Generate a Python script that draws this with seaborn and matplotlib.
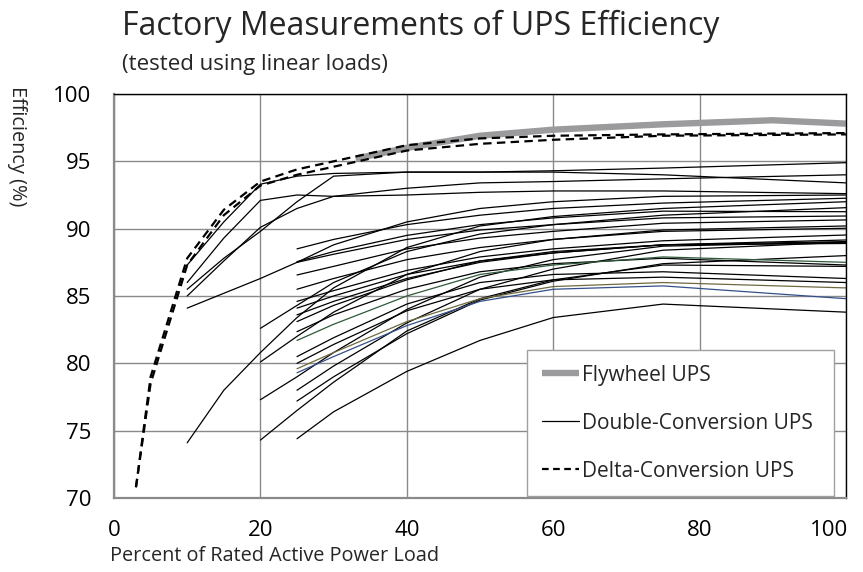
import matplotlib
matplotlib.use("Agg")
import matplotlib.pyplot as plt
import seaborn as sns
import pandas as pd
from matplotlib.lines import Line2D
from matplotlib.transforms import ScaledTranslation

# ---------------- data ----------------
X10 = [10, 15, 20, 25, 30, 40, 50, 60, 75, 100]
X20 = [20, 25, 30, 40, 50, 60, 75, 100]
X25 = [25, 30, 40, 50, 60, 75, 100]

# double-conversion UPS curves starting at 10 % load
dc01 = [87.3, 90.5, 93.3, 93.9, 94.1, 94.2, 94.2, 94.3, 94.5, 94.9]
dc02 = [86.0, 89.3, 92.1, 92.5, 92.4, 92.5, 92.7, 92.8, 92.8, 92.6]
dc03 = [85.0, 87.6, 90.1, 91.5, 92.4, 93.0, 93.4, 93.5, 93.7, 94.0]
dc06 = [85.5, 87.8, 89.8, 92.0, 93.9, 94.2, 94.2, 94.2, 94.0, 93.4]
dc04 = [84.1, 85.2, 86.3, 87.5, 88.8, 90.5, 91.5, 92.0, 92.4, 92.5]
dc05 = [74.1, 78.0, 80.8, 83.4, 85.6, 88.6, 90.2, 90.9, 91.5, 92.0]
# starting at 20 % load
dc07 = [82.6, 84.3, 86.0, 88.3, 89.6, 90.3, 91.0, 91.56]
dc08 = [80.1, 82.0, 83.8, 86.6, 88.3, 89.2, 89.9, 90.2]
dc09 = [77.3, 79.0, 80.8, 84.0, 86.4, 87.7, 88.7, 89.0]
dc10 = [74.3, 76.5, 78.6, 82.4, 84.8, 86.2, 87.3, 87.2]
# starting at 25 % load
dc11 = [88.5, 89.2, 90.3, 91.0, 91.5, 91.9, 92.26]
dc12 = [87.55, 88.3, 89.5, 90.3, 90.8, 91.3, 91.26]
dc13 = [87.5, 88.1, 89.2, 89.9, 90.3, 90.8, 90.94]
dc14 = [86.56, 87.2, 88.5, 89.3, 89.8, 90.4, 90.65]
dc15 = [85.5, 86.3, 87.7, 88.6, 89.2, 89.8, 90.03]
dc16 = [84.6, 85.4, 86.9, 87.9, 88.5, 89.1, 89.53]
dc17 = [84.1, 85.0, 86.6, 87.6, 88.2, 88.8, 89.16]
dc18 = [83.6, 84.6, 86.3, 87.5, 88.2, 88.8, 89.04]
dc19 = [83.1, 84.3, 86.2, 87.6, 88.3, 88.8, 88.9]
dc20 = [82.35, 83.6, 85.5, 86.8, 87.4, 87.8, 87.3]
dc21 = [80.5, 81.9, 84.4, 86.0, 86.6, 86.8, 86.3]
dc22 = [80.0, 81.4, 83.9, 85.5, 86.2, 86.4, 86.0]
dc23 = [78.0, 79.8, 83.0, 85.5, 87.0, 88.4, 89.0]
dc24 = [77.2, 79.0, 82.2, 84.7, 86.1, 87.4, 88.0]
dc25 = [74.4, 76.4, 79.4, 81.7, 83.4, 84.4, 83.8]
dc_green = [81.7, 82.9, 85.0, 86.6, 87.3, 87.9, 87.5]
dc_olive = [79.6, 80.8, 83.1, 84.8, 85.7, 86.0, 85.6]
dc_blue = [79.3, 80.5, 82.8, 84.6, 85.5, 85.75, 84.8]

# delta-conversion UPS
DX = [3, 5, 10, 15, 20, 25, 30, 40, 50, 60, 75, 100]
delta1 = [70.8, 79.0, 87.8, 91.4, 93.5, 94.4, 95.0, 96.2, 96.7, 96.9, 97.0, 97.1]
delta2 = [70.8, 78.5, 87.3, 91.0, 93.2, 94.0, 94.6, 95.8, 96.3, 96.6, 96.9, 97.0]

# flywheel UPS
FX = [33, 40, 50, 60, 75, 90, 100]
fly = [95.2, 96.0, 96.9, 97.35, 97.75, 98.05, 97.8]

legend_labels = ["Flywheel UPS", "Double-Conversion UPS", "Delta-Conversion UPS"]
title_text = "Factory Measurements of UPS Efficiency"
subtitle_text = "(tested using linear loads)"
xlabel_text = "Percent of Rated Active Power Load"
ylabel_text = "Efficiency (%)"
xticks = [0, 20, 40, 60, 80, 100]
yticks = [70, 75, 80, 85, 90, 95, 100]

# ---------------- build long tables ----------------
black_curves = [
    (X10, dc01), (X10, dc02), (X10, dc03), (X10, dc06), (X10, dc04), (X10, dc05),
    (X20, dc07), (X20, dc08), (X20, dc09), (X20, dc10),
    (X25, dc11), (X25, dc12), (X25, dc13), (X25, dc14), (X25, dc15), (X25, dc16),
    (X25, dc17), (X25, dc18), (X25, dc19), (X25, dc20), (X25, dc21), (X25, dc22),
    (X25, dc23), (X25, dc24), (X25, dc25),
]
rows = []
for i, (xs, ys) in enumerate(black_curves):
    for xv, yv in zip(xs, ys):
        rows.append({"curve": i, "load": xv, "eff": yv})
df_dc = pd.DataFrame(rows)

colored = [(dc_green, "#2f5a3a"), (dc_olive, "#6e6a40"), (dc_blue, "#34508a")]

rows = []
for i, ys in enumerate([delta1, delta2]):
    for xv, yv in zip(DX, ys):
        rows.append({"curve": i, "load": xv, "eff": yv})
df_delta = pd.DataFrame(rows)
df_fly = pd.DataFrame({"load": FX, "eff": fly})

# ---------------- figure ----------------
sns.set_theme(style="white")
plt.rcParams['font.family'] = ['Open Sans', 'DejaVu Sans']

W, H = 863, 572
fig = plt.figure(figsize=(W / 100, H / 100), dpi=100)
ax = fig.add_axes([114 / W, 1 - 498 / H, (846 - 114) / W, (498 - 94) / H])

GRID = "#8a8a8a"
ax.set_axisbelow(True)
ax.grid(True, color=GRID, lw=1.0)

sns.lineplot(data=df_fly, x="load", y="eff", ax=ax, color="#9b9b9d", lw=4.6,
             estimator=None, sort=False, legend=False, solid_capstyle="butt")
sns.lineplot(data=df_dc, x="load", y="eff", units="curve", estimator=None, ax=ax,
             color="black", lw=0.9, sort=False, legend=False)
for ys, col in colored:
    sns.lineplot(x=X25, y=ys, ax=ax, color=col, lw=0.9, estimator=None,
                 sort=False, legend=False)
n_before = len(ax.lines)
sns.lineplot(data=df_delta, x="load", y="eff", units="curve", estimator=None, ax=ax,
             color="black", lw=1.6, sort=False, legend=False)
for ln in ax.lines[n_before:]:
    ln.set_dashes((3.8, 2.4))

ax.set_xlim(0, 100)
ax.set_ylim(70, 100)
ax.set_xticks(xticks)
ax.set_yticks(yticks)
ax.set_xlabel("")
ax.set_ylabel("")
ax.tick_params(axis="both", which="both", direction="out", length=6.5, width=1,
               color=GRID, labelsize=16, labelcolor="black")
ax.tick_params(axis="y", pad=10)
ax.tick_params(axis="x", pad=9)

# keep the last x tick label inside the figure (as in the reference)
fig.canvas.draw()
last = ax.get_xticklabels()[-1]
last.set_horizontalalignment("right")
last.set_transform(last.get_transform() + ScaledTranslation(2 / 100, 0, fig.dpi_scale_trans))

for side in ["top", "right"]:
    ax.spines[side].set_color("black")
    ax.spines[side].set_linewidth(1.0)
for side in ["left", "bottom"]:
    ax.spines[side].set_color(GRID)
    ax.spines[side].set_linewidth(1.6)

# titles and axis labels
fig.text(122 / W, 1 - 35 / H, title_text, fontsize=23, ha="left", va="baseline")
fig.text(122 / W, 1 - 70 / H, subtitle_text, fontsize=16, ha="left", va="baseline")
fig.text(110 / W, 1 - 556 / H, xlabel_text, fontsize=14.3, ha="left", va="center")
fig.text(17 / W, 1 - 86 / H, ylabel_text, fontsize=14.3, rotation=270,
         ha="center", va="top")

# legend
handles = [
    Line2D([], [], color="#9b9b9d", lw=4.6, solid_capstyle="butt"),
    Line2D([], [], color="black", lw=0.9),
    Line2D([], [], color="black", lw=1.6, dashes=(3.0, 2.0)),
]
leg = ax.legend(handles, legend_labels, loc="upper left", mode="expand",
                bbox_to_anchor=(527 / W, 1 - 492 / H, 307 / W, 142 / H),
                bbox_transform=fig.transFigure,
                fontsize=15, frameon=True, fancybox=False, framealpha=1,
                edgecolor="#a0a0a0", handlelength=1.8, handletextpad=0.15,
                labelspacing=1.3, borderpad=0.7, borderaxespad=0)
leg.get_frame().set_linewidth(1.0)

fig.savefig("out.png", dpi=100)
